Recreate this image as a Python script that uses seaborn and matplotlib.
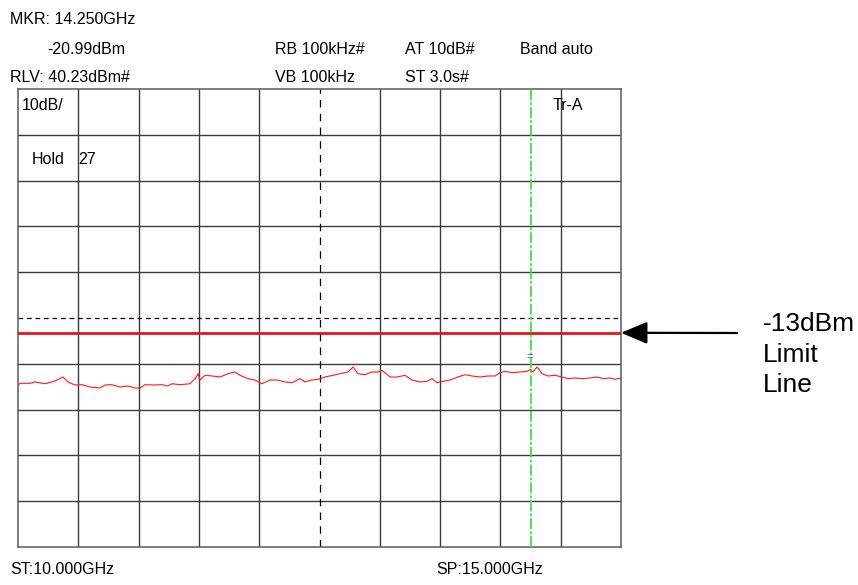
import numpy as np
import pandas as pd
import matplotlib
matplotlib.use("Agg")
import matplotlib.pyplot as plt
import seaborn as sns

# --- instrument settings shown on screen ---
start_ghz = 10.0
stop_ghz = 15.0
ref_level = 40.23      # dBm, top of screen
db_per_div = 10
n_div = 10
limit_dbm = -13.0
mkr_freq = 14.250
mkr_level = -20.99

# --- max-hold trace ---
trace_freq = [10.000, 10.017, 10.100, 10.141, 10.224, 10.307, 10.373, 10.415, 10.473, 10.531,
              10.597, 10.680, 10.721, 10.779, 10.846, 10.912, 10.970, 11.012, 11.053, 11.136,
              11.194, 11.244, 11.277, 11.343, 11.426, 11.468, 11.493, 11.509, 11.551, 11.609,
              11.675, 11.741, 11.799, 11.841, 11.907, 11.965, 12.023, 12.090, 12.148, 12.214,
              12.272, 12.338, 12.380, 12.438, 12.488, 12.546, 12.612, 12.670, 12.736, 12.778,
              12.819, 12.877, 12.935, 12.985, 13.018, 13.085, 13.143, 13.209, 13.267, 13.333,
              13.391, 13.433, 13.474, 13.524, 13.582, 13.648, 13.706, 13.765, 13.831, 13.897,
              13.955, 13.997, 14.038, 14.096, 14.162, 14.221, 14.250, 14.270, 14.304, 14.345,
              14.395, 14.453, 14.511, 14.561, 14.619, 14.677, 14.743, 14.801, 14.851, 14.909,
              14.950, 15.000]
trace_dbm = [-24.46, -24.03, -24.03, -23.74, -24.12, -23.53, -22.65, -23.74, -24.40, -24.33,
             -24.84, -25.05, -24.40, -24.33, -24.84, -24.62, -25.05, -25.05, -24.33, -24.40,
             -24.33, -24.62, -24.12, -24.33, -24.12, -23.02, -21.93, -23.31, -22.28, -22.43,
             -22.65, -21.93, -21.56, -22.28, -23.02, -23.31, -24.12, -23.31, -23.31, -23.74,
             -23.90, -23.02, -23.74, -23.31, -23.15, -22.65, -22.28, -21.93, -21.56, -20.47,
             -21.93, -22.15, -21.56, -21.56, -21.19, -22.65, -22.65, -22.28, -23.31, -23.74,
             -23.59, -23.02, -23.90, -23.59, -23.31, -22.65, -22.15, -22.43, -22.65, -22.43,
             -22.43, -21.71, -21.41, -21.71, -21.56, -21.41, -20.99, -21.56, -20.47, -21.93,
             -22.43, -22.28, -22.65, -23.02, -22.87, -23.02, -22.87, -22.65, -23.02, -22.87,
             -23.15, -22.87]

header_left = ["MKR: 14.250GHz", "-20.99dBm", "RLV: 40.23dBm#"]
header_mid = ["RB 100kHz#", "VB 100kHz"]
header_right = ["AT 10dB#", "ST 3.0s#"]
band_label = "Band auto"
limit_label = ["-13dBm", "Limit", "Line"]

W, H = 858, 585


def fx(px):
    return px / W


def fy(py):
    return 1 - py / H


sns.set_style("white")
plt.rcParams['font.family'] = ['Liberation Sans', 'DejaVu Sans']
plt.rcParams['text.color'] = 'black'

fig = plt.figure(figsize=(W / 100, H / 100), dpi=100)
ax = fig.add_axes([fx(18), fy(547), fx(621) - fx(18), fy(89) - fy(547)])

bottom = ref_level - n_div * db_per_div
center_f = (start_ghz + stop_ghz) / 2
center_l = ref_level - n_div / 2 * db_per_div

ax.set_xlim(start_ghz, stop_ghz)
ax.set_ylim(bottom, ref_level)

# graticule
step_f = (stop_ghz - start_ghz) / n_div
xt = [start_ghz + i * step_f for i in range(1, n_div) if i != n_div // 2]
yt = [bottom + i * db_per_div for i in range(1, n_div) if i != n_div // 2]
ax.set_xticks(xt)
ax.set_yticks(yt)
ax.tick_params(length=0, labelbottom=False, labelleft=False)
ax.grid(True, color="#3c3c3c", lw=1.0)
for s in ax.spines.values():
    s.set_color("#5a5a5a")
    s.set_linewidth(1.1)
ax.axvline(center_f, color="black", lw=0.9, dashes=(6, 5))
ax.axhline(center_l, color="black", lw=0.9, dashes=(3.8, 3))

# limit line and trace
ax.axhline(limit_dbm, color="#e8141c", lw=2.0, zorder=4)
df = pd.DataFrame({"freq": trace_freq, "dbm": trace_dbm})
sns.lineplot(data=df, x="freq", y="dbm", color="#ff1a1a", lw=0.8, ax=ax, zorder=5)
ax.set_xlabel("")
ax.set_ylabel("")

# marker
ax.axvline(mkr_freq, color="#3fe03f", lw=1.3, dashes=(6, 1.2, 1.5, 1.2), zorder=6)
ax.annotate("=", xy=(mkr_freq, mkr_level), xytext=(-0.5, 5), textcoords="offset points",
            ha="center", va="bottom", fontsize=8, color="#555555", zorder=7)

# in-screen labels
fs = 11.5
fig.text(fx(22), fy(105), "10dB/", fontsize=fs, va="center")
fig.text(fx(32), fy(160), "Hold", fontsize=fs, va="center")
fig.text(fx(78), fy(160), "27", fontsize=fs, va="center")
fig.text(fx(553), fy(105), "Tr-A", fontsize=fs, va="center")

# header
fig.text(fx(10), fy(20), header_left[0], fontsize=fs, va="center")
fig.text(fx(47), fy(50), header_left[1], fontsize=fs, va="center")
fig.text(fx(10), fy(77), header_left[2], fontsize=fs, va="center")
fig.text(fx(275), fy(50), header_mid[0], fontsize=fs, va="center")
fig.text(fx(275), fy(77), header_mid[1], fontsize=fs, va="center")
fig.text(fx(405), fy(50), header_right[0], fontsize=fs, va="center")
fig.text(fx(405), fy(77), header_right[1], fontsize=fs, va="center")
fig.text(fx(520), fy(50), band_label, fontsize=fs, va="center")

# footer
fig.text(fx(10), fy(569), f"ST:{start_ghz:.3f}GHz", fontsize=fs, va="center")
fig.text(fx(436), fy(569), f"SP:{stop_ghz:.3f}GHz", fontsize=fs, va="center")

# limit line callout
ax.annotate("", xy=(stop_ghz, limit_dbm), xytext=(fx(737), fy(333)),
            textcoords="figure fraction",
            arrowprops=dict(arrowstyle="-|>,head_length=0.9,head_width=0.38",
                            color="black", lw=1.6, mutation_scale=18, shrinkA=0, shrinkB=0),
            annotation_clip=False)
for i, line in enumerate(limit_label):
    fig.text(fx(763), fy(331 + 30.5 * i), line, fontsize=19, va="baseline")

fig.savefig("out.png", dpi=100)
